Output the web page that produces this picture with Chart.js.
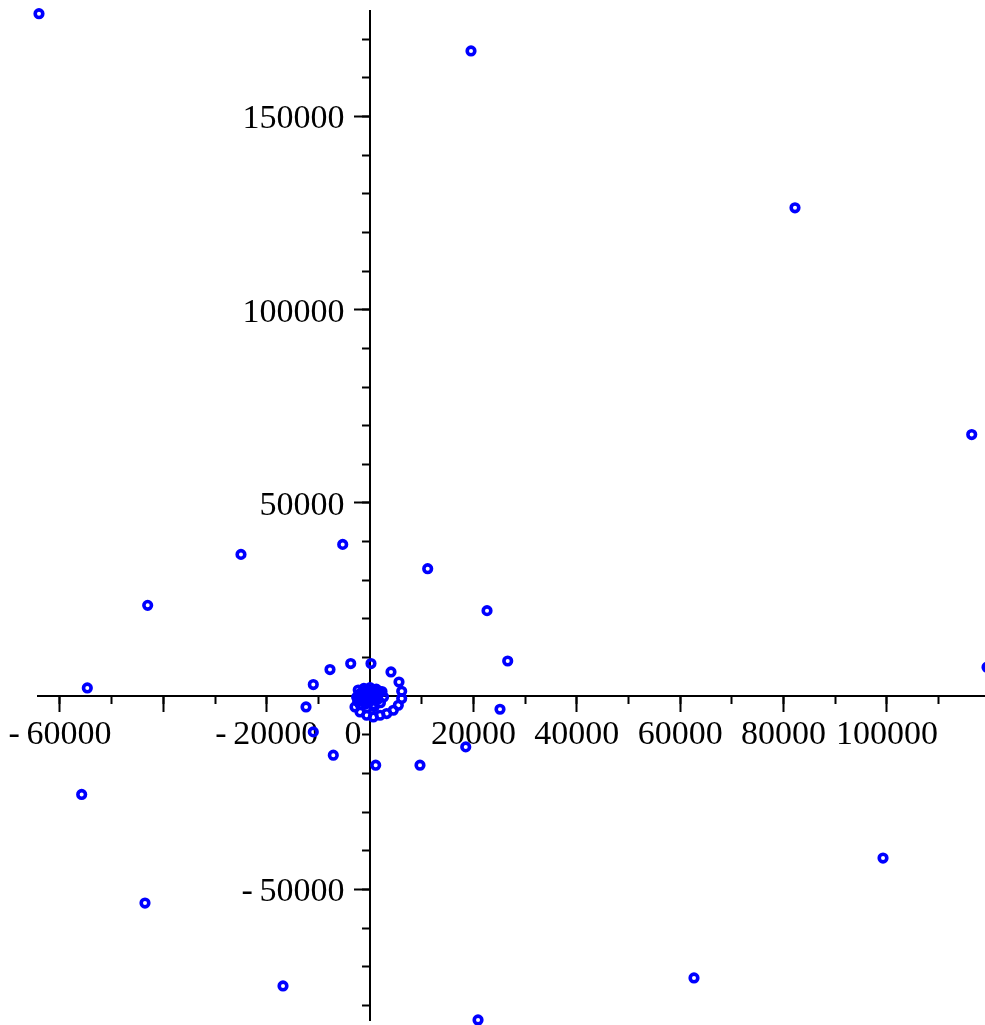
<!DOCTYPE html>
<html><head><meta charset="utf-8">
<script src="https://cdn.jsdelivr.net/npm/chart.js@4/dist/chart.umd.min.js"></script>
<style>html,body{margin:0;padding:0;background:#fff}canvas{display:block}</style>
</head><body>
<canvas id="c" width="985" height="1025"></canvas>
<script>
// point cloud (outer spiral, then the tight cluster at the origin)
const ptX = [-64060, 19520, 82200, 116390, 119350, -5300, -24980, 11140, 22620, -43030, -54710, -55800,
  26620, 25130, 18500, 9650, 1080, -7120, -10990, -12400, -10990, -7760, -3750, 170, 4040, 5590, 6110,
  -43550, -16850, 20880, 62660, 99230,
  6110, 5460, 4490, 3210, 1920, 620, -660, -1950, -2920,
  -2600, -2300, -1200, 0, 1200, 2300, 2600, 2000, 800, -600, -1900, -1500, -700, 500, 1300, 900, -300, -1200, 0, -400, 300, -2000, 1700, -2400,
  -1800, 1000, -800, 1500, -2200, 600];
const ptY = [176600, 166970, 126380, 67700, 7470, 39270, 36680, 32990, 22130, 23500, 2120, -25440,
  9100, -3390, -13130, -17860, -17860, -15280, -9250, -2790, 3000, 6880, 8430, 8430, 6260, 3670, 1270,
  -53540, -74990, -83780, -72920, -41900,
  -620, -2350, -3640, -4500, -4940, -5380, -4940, -4080, -2790,
  -300, 1600, 2000, 2200, 1800, 1200, -200, -1700, -2700, -3000, -2200, 500, 1500, 1400, 300, -1100, -1600, -900, 0, 400, -400, -1000, 1300, -1400,
  800, 600, -2000, -800, 300, -2200];

const xMin = -64250, xMax = 118960, yMin = -83800, yMax = 177300;
// tick positions (labelled = major, the rest are short minor ticks)
const xMajorTicks = [-60000, -40000, -20000, 0, 20000, 40000, 60000, 80000, 100000];
const xMinorTicks = [-60000, -50000, -40000, -30000, -20000, -10000, 0, 10000, 20000, 30000, 40000, 50000, 60000, 70000, 80000, 90000, 100000, 110000];
const yMajorTicks = [-50000, 0, 50000, 100000, 150000];
const yMinorTicks = [-80000, -70000, -60000, -50000, -40000, -30000, -20000, -10000, 0, 10000, 20000, 30000, 40000, 50000,
  60000, 70000, 80000, 90000, 100000, 110000, 120000, 130000, 140000, 150000, 160000, 170000];

const noFit = s => {
  if (s.isHorizontal()) s.height = 0; else s.width = 0;
  s.paddingLeft = s.paddingRight = s.paddingTop = s.paddingBottom = 0;
};
const setTicks = arr => s => { s.ticks = arr.map(v => ({value: v})); };
const fnt = {family: 'Liberation Serif', size: 34};
const neg = v => v < 0 ? '-\u2009' + Math.abs(v) : String(v);

const pts = ptX.map((x, i) => ({x, y: ptY[i]}));

const axis = (min, max, pos, ticksArr, len, extra) => Object.assign({
  type: 'linear', min, max, position: pos, z: 1, afterFit: noFit, afterBuildTicks: setTicks(ticksArr),
  grid: {drawOnChartArea: false, tickLength: len, tickWidth: 2, tickColor: '#000'},
  border: {display: false}
}, extra);

new Chart(document.getElementById('c'), {
  type: 'scatter',
  data: {datasets: [{data: pts, pointStyle: 'circle', pointRadius: 3.8, pointBorderWidth: 3.6,
    borderColor: '#0000ff', backgroundColor: 'rgba(0,0,0,0)', clip: false}]},
  options: {
    responsive: false, animation: false, devicePixelRatio: 1,
    layout: {autoPadding: false, padding: {left: 38, top: 11, right: 0, bottom: 5}},
    plugins: {legend: {display: false}, tooltip: {enabled: false}},
    scales: {
      x: axis(xMin, xMax, {y: 0}, xMajorTicks, 15, {
        border: {display: true, color: '#000', width: 2},
        ticks: {autoSkip: false, maxRotation: 0, padding: 4, color: '#000', font: fnt,
          callback: v => v === -40000 ? '' : v === 0 ? '0    ' : neg(v)}}),
      x2: axis(xMin, xMax, {y: 0}, xMinorTicks, 8, {ticks: {autoSkip: false, maxRotation: 0, callback: () => ''}}),
      y: axis(yMin, yMax, {x: 0}, yMajorTicks, 15, {
        border: {display: true, color: '#000', width: 2},
        ticks: {autoSkip: false, labelOffset: 3, color: '#000', font: fnt,
          // trailing spaces keep the label clear of the tick marks
          callback: v => v === 0 ? '' : neg(v) + '   '}}),
      y2: axis(yMin, yMax, {x: 0}, yMinorTicks, 8, {ticks: {autoSkip: false, callback: () => ''}})
    }
  }
});
</script>
</body></html>
